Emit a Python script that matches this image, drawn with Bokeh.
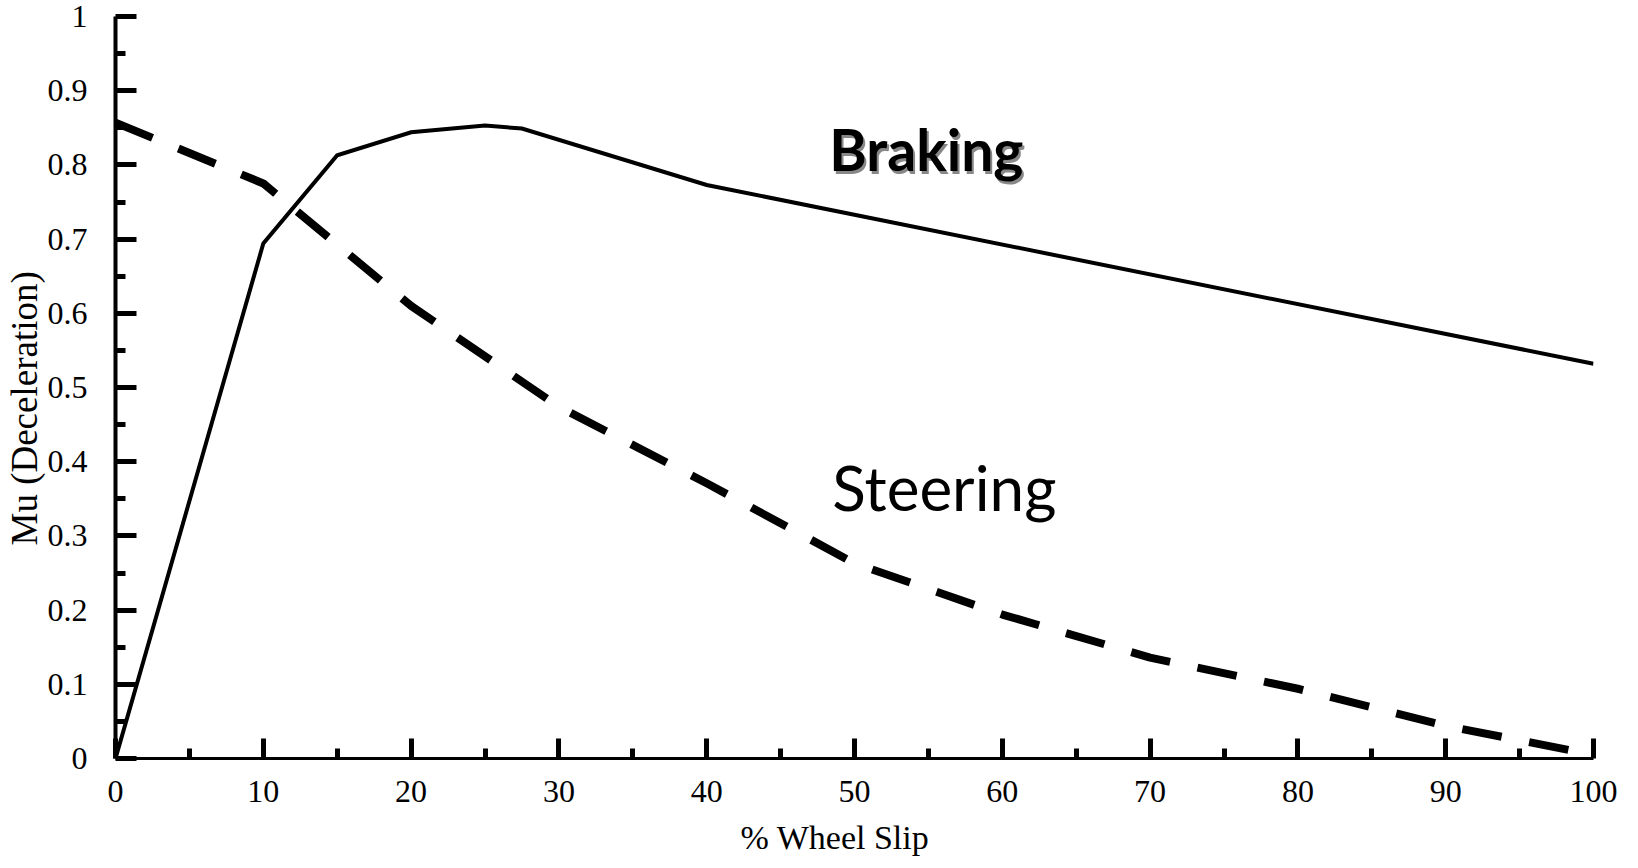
from bokeh.plotting import figure
from bokeh.models import Range1d, FixedTicker, ColumnDataSource, Title
from bokeh.core.properties import value
from bokeh.embed import file_html
from bokeh.resources import INLINE

# ---- data ----
slip_braking = [0, 10, 15, 20, 25, 27.5, 40, 100]
mu_braking = [0.0, 0.694, 0.813, 0.844, 0.853, 0.849, 0.773, 0.532]

slip_steering = [0, 10, 20, 30, 40, 50, 60, 70, 80, 90, 100]
mu_steering = [0.857, 0.775, 0.610, 0.474, 0.371, 0.263, 0.194, 0.136, 0.094, 0.044, 0.005]

x_major = [0, 10, 20, 30, 40, 50, 60, 70, 80, 90, 100]
x_minor = [5, 15, 25, 35, 45, 55, 65, 75, 85, 95]
x_labels = ["0", "10", "20", "30", "40", "50", "60", "70", "80", "90", "100"]

y_major = [0, 0.1, 0.2, 0.3, 0.4, 0.5, 0.6, 0.7, 0.8, 0.9, 1.0]
y_minor = [0.05, 0.15, 0.25, 0.35, 0.45, 0.55, 0.65, 0.75, 0.85, 0.95]
y_labels = ["0", "0.1", "0.2", "0.3", "0.4", "0.5", "0.6", "0.7", "0.8", "0.9", "1"]

x_title = "% Wheel Slip"
y_title = "Mu (Deceleration)"

braking_label = "Braking"
steering_label = "Steering"

p = figure(
    width=1638, height=868,
    x_range=Range1d(0, 100), y_range=Range1d(0, 1),
    output_backend="svg", toolbar_location=None,
    min_border_left=115, min_border_top=16, min_border_right=45, min_border_bottom=110,
)
p.outline_line_color = None
p.xgrid.visible = False
p.ygrid.visible = False
p.background_fill_color = "white"
p.border_fill_color = "white"

# axes
xa = p.xaxis[0]
xa.ticker = FixedTicker(ticks=x_major, minor_ticks=x_minor)
xa.major_label_overrides = {t: l for t, l in zip(x_major, x_labels)}
xa.axis_line_width = 3
xa.axis_line_color = "black"
xa.major_tick_in = 20
xa.major_tick_out = 0
xa.minor_tick_in = 10
xa.minor_tick_out = 0
xa.major_tick_line_width = 5
xa.minor_tick_line_width = 5
xa.major_tick_line_color = "black"
xa.minor_tick_line_color = "black"
xa.major_label_text_font = "Liberation Serif"
xa.major_label_text_font_size = "32px"
xa.major_label_text_color = "black"
xa.major_label_standoff = 22

ya = p.yaxis[0]
ya.ticker = FixedTicker(ticks=y_major, minor_ticks=y_minor)
ya.major_label_overrides = {t: l for t, l in zip(y_major, y_labels)}
ya.axis_line_width = 4
ya.axis_line_color = "black"
ya.major_tick_in = 21
ya.major_tick_out = 0
ya.minor_tick_in = 10
ya.minor_tick_out = 0
ya.major_tick_line_width = 5
ya.minor_tick_line_width = 5
ya.major_tick_line_color = "black"
ya.minor_tick_line_color = "black"
ya.major_label_text_font = "Liberation Serif"
ya.major_label_text_font_size = "32px"
ya.major_label_text_color = "black"
ya.major_label_standoff = 28

# axis titles as side-panel titles
p.add_layout(Title(text=x_title, align="left", offset=625, standoff=25,
                   text_font="Liberation Serif", text_font_size="34px",
                   text_font_style="normal", text_color="black"), "below")
p.add_layout(Title(text=y_title, align="left", offset=213, standoff=0,
                   text_font="Liberation Serif", text_font_size="37px",
                   text_font_style="normal", text_color="black"), "left")

# lines
p.line(slip_braking, mu_braking, line_color="black", line_width=4, line_join="miter")
p.line(slip_steering, mu_steering, line_color="black", line_width=8,
       line_dash="40 28", line_cap="butt", line_join="round")

# annotation texts
src_b = ColumnDataSource(dict(x=[48.3], y=[0.821], t=[braking_label]))
p.text(x="x", y="y", text="t", source=src_b, x_offset=2, y_offset=3,
       text_font=value("Lato"), text_font_style="bold", text_font_size="57px",
       text_color="#555555", text_alpha=0.7, text_baseline="alphabetic", text_align="left")
p.text(x="x", y="y", text="t", source=src_b,
       text_font=value("Lato"), text_font_style="bold", text_font_size="57px",
       text_color="black", text_baseline="alphabetic", text_align="left")

src_s = ColumnDataSource(dict(x=[48.5], y=[0.366], t=[steering_label]))
p.text(x="x", y="y", text="t", source=src_s,
       text_font=value("Lato"), text_font_size="62px",
       text_color="black", text_baseline="alphabetic", text_align="left")

open("out.html", "w").write(file_html(p, INLINE))
